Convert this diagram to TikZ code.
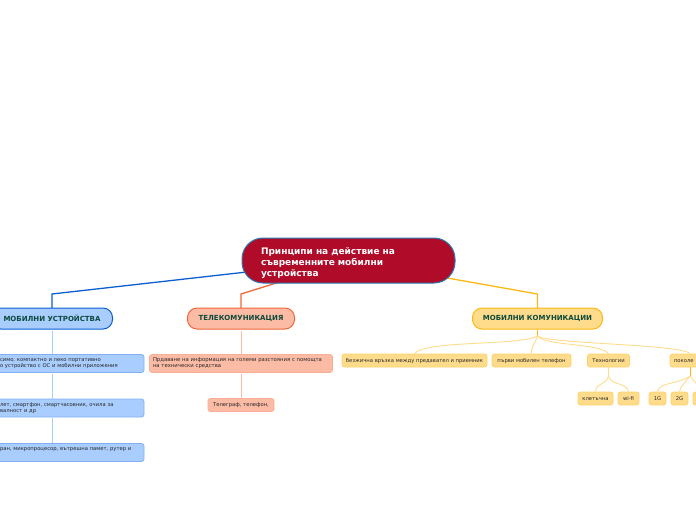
\documentclass[tikz,border=0pt]{standalone}
\usepackage{fontspec}
\setmainfont{DejaVu Sans}
\usetikzlibrary{backgrounds}
\definecolor{blueline}{HTML}{0A5FD0}
\definecolor{bluefill}{HTML}{A9CDFF}
\definecolor{redline}{HTML}{F0663A}
\definecolor{redfill}{HTML}{FCBBA5}
\definecolor{yellowline}{HTML}{FDB813}
\definecolor{yellowfill}{HTML}{FFDC8C}
\definecolor{rootfill}{HTML}{B00B28}
\definecolor{rootline}{HTML}{2A7AB0}
\definecolor{headtext}{HTML}{0B4A3C}
\begin{document}
\begin{tikzpicture}[x=1pt,y=-1pt,
        root/.style={
          draw=rootline,fill=rootfill,line width=1pt,rounded corners=21pt,
          minimum width=213pt,minimum height=45pt,inner xsep=19pt,inner ysep=0pt,
          text width=175pt,align=left,text=white,font=\bfseries\fontsize{9}{11.2}\selectfont
        },
        head/.style={
          line width=1pt,rounded corners=9.5pt,minimum height=21pt,inner sep=0pt,
          text=headtext,font=\bfseries\fontsize{7}{8}\selectfont
        },
        leaf/.style={
          line width=.7pt,rounded corners=2.5pt,inner ysep=0pt,inner xsep=0pt,
          text=black!85,font=\fontsize{5.25}{6}\selectfont
        },
        bluehead/.style={head,draw=blueline,fill=bluefill},
        redhead/.style={head,draw=redline,fill=redfill},
        yellowhead/.style={head,draw=yellowline,fill=yellowfill},
        blueleaf/.style={leaf,draw=bluefill!75!blueline,fill=bluefill,minimum width=150pt,minimum height=18pt,inner xsep=6pt,text width=138pt,align=left},
        redleaf/.style={leaf,draw=redfill!85!redline,fill=redfill,minimum height=13pt},
        yellowleaf/.style={leaf,draw=yellowfill!70!yellowline,fill=yellowfill,minimum height=13pt,text height=4pt,text depth=1pt},
        bluelink/.style={draw=blueline,line width=1.3pt},
        redlink/.style={draw=redline,line width=1.3pt},
        yellowlink/.style={draw=yellowline,line width=1.3pt},
        bluefork/.style={draw=bluefill,line width=1pt},
        redfork/.style={draw=redfill,line width=1pt},
        yellowfork/.style={draw=yellowfill,line width=.9pt}
      ]
      \useasboundingbox (0,0) rectangle (696,520);
      \node [root] (main) at (348.5,260.5) {\rule{0pt}{12pt}Принципи на действие на\\съвременните мобилни\\устройства};

      \node [bluehead,minimum width=121pt] (mob) at (52,318.5) {МОБИЛНИ УСТРОЙСТВА};
      \node [redhead,minimum width=107pt] (tele) at (241,318.5) {ТЕЛЕКОМУНИКАЦИЯ};
      \node [yellowhead,minimum width=130pt] (komm) at (537.5,318.5) {МОБИЛНИ КОМУНИКАЦИИ};

      \node [blueleaf] (mobA) at (69,363.5) {симо, компактно и леко портативно\\о устройство с ОС и мобилни приложения};
      \node [blueleaf] (mobB) at (69,408) {лет, смартфон, смартчасовник, очила за\\валност и др};
      \node [blueleaf] (mobC) at (69,452.5) {ран, микропроцесор, вътрешна памет, рутер и\\\strut};

      \node [redleaf,minimum width=183pt,minimum height=18pt,inner xsep=3.5pt,text width=176pt,align=left,font=\fontsize{5.3}{6}\selectfont] (teleA) at (241,363.5) {Прдаване на информация на големи разстояния с помощта\\на технически средства};
      \node [redleaf,minimum width=66pt] (teleB) at (241,405) {Телеграф, телефон,};

      \node [yellowleaf,minimum width=145pt] (kommA) at (414.5,360.5) {безжична връзка между предавател и приемник};
      \node [yellowleaf,minimum width=79pt] (kommB) at (531.5,360.5) {първи мобилен телефон};
      \node [yellowleaf,minimum width=42pt] (kommC) at (608.5,360.5) {Технологии};
      \node [yellowleaf,minimum width=40pt,inner xsep=4pt,text width=32pt,align=left] (kommD) at (690,360.5) {поколе};

      \node [yellowleaf,minimum width=35pt] (techA) at (595.5,398.5) {клетъчна};
      \node [yellowleaf,minimum width=21pt] (techB) at (628.5,398.5) {wi-fi};
      \node [yellowleaf,minimum width=17pt] (genA) at (657.5,398.5) {1G};
      \node [yellowleaf,minimum width=17pt] (genB) at (679.5,398.5) {2G};
      \node [yellowleaf,minimum width=17pt] (genC) at (701.5,398.5) {};

      \coordinate (mobbend) at (52,294);
      \coordinate (telebend) at (241,294);
      \coordinate (kommbend) at (537.5,294);
      \coordinate (kommfork) at (537.5,336);
      \coordinate (techfork) at (608.5,376);
      \coordinate (genfork) at (690,376);

      \begin{scope}[on background layer]
        \draw [bluelink] (main.center) -- (mobbend) -- (mob.center);
        \draw [redlink] (main.center) -- (telebend) -- (tele.center);
        \draw [yellowlink] (main.center) -- (kommbend) -- (komm.center);
      \end{scope}

      \draw [bluefork] (mob.south) ++(0,1) -- (mobA.north -| mob.south);
      \draw [bluefork] (mobA.south -| mob.south) ++(0,1) -- (mobB.north -| mob.south);
      \draw [bluefork] (mobB.south -| mob.south) ++(0,1) -- (mobC.north -| mob.south);
      \draw [redfork] (tele.south) ++(0,1) -- (teleA.north);
      \draw [redfork] (teleA.south) ++(0,1) -- (teleB.north);

      \draw [yellowlink,line width=.8pt] (komm.south) -- (kommfork);
      \draw [yellowfork] (kommfork) .. controls (520,346) and (425,340) .. (kommA.north);
      \draw [yellowfork] (kommfork) .. controls (535,344) and (531,346) .. (kommB.north);
      \draw [yellowfork] (kommfork) .. controls (545,346) and (600,343) .. (kommC.north);
      \draw [yellowfork] (kommfork) .. controls (550,344) and (680,344) .. (kommD.north);

      \draw [yellowfork] (kommC.south) -- (techfork);
      \draw [yellowfork] (techfork) .. controls (606,386) and (596,382) .. (techA.north);
      \draw [yellowfork] (techfork) .. controls (611,386) and (627,382) .. (techB.north);

      \draw [yellowlink,line width=.8pt] (kommD.south) -- (genfork);
      \draw [yellowfork] (genfork) .. controls (680,384) and (659,382) .. (genA.north);
      \draw [yellowfork] (genfork) .. controls (686,382) and (680,386) .. (genB.north);
      \draw [yellowfork] (genfork) .. controls (694,382) and (700,386) .. (genC.north);
    \end{tikzpicture}
\end{document}
